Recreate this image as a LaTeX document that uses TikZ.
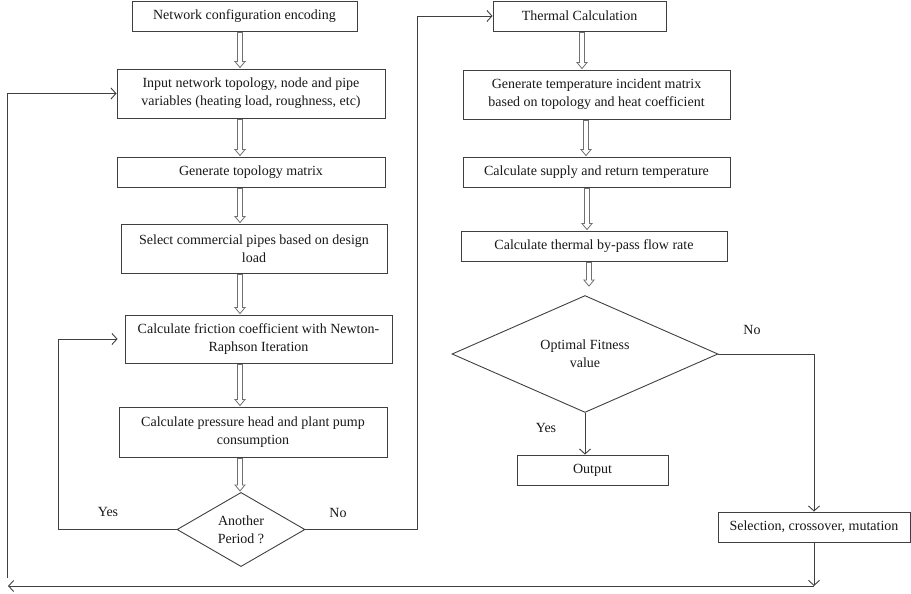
\documentclass[tikz,border=0pt]{standalone}
\usepackage{fontspec}
\setmainfont{Liberation Serif}
\usetikzlibrary{shapes.geometric,arrows.meta,calc}
\definecolor{lc}{HTML}{404040}
\definecolor{bc}{HTML}{707070}
\newcommand\barrow[3]{%
  \draw[blk] let \p1=#1, \p2=#2, \p3=(#3,0) in
    (\x3-2.5pt,\y1-1pt) -- (\x3-2.5pt,\y2+7pt) -- (\x3-5pt,\y2+7pt) --
    (\x3,\y2+1pt) -- (\x3+5pt,\y2+7pt) -- (\x3+2.5pt,\y2+7pt) --
    (\x3+2.5pt,\y1-1pt) -- cycle;}
\begin{document}
\begin{tikzpicture}[x=1pt,y=-1pt,
  txt/.style={font=\fontsize{14}{18}\selectfont, text=black!90},
  box/.style={txt, draw=lc, line width=0.9pt, fill=white, align=center, inner sep=0pt},
  dec/.style={txt, draw=lc, line width=0.9pt, diamond, fill=white, align=center, inner sep=0pt},
  con/.style={draw=lc, line width=0.9pt, -{Straight Barb[length=5pt,width=11pt]}},
  blk/.style={draw=bc, line width=0.8pt, fill=white}]
\useasboundingbox (0,0) rectangle (911,594);

% left column
\node[box, minimum width=225pt, minimum height=30pt] (n1) at (244.5,16) {Network configuration encoding};
\node[box, minimum width=268pt, minimum height=49pt] (n2) at (251,93.5) {Input network topology, node and pipe\\variables (heating load, roughness, etc)};
\node[box, minimum width=268pt, minimum height=30pt] (n3) at (251,172) {Generate topology matrix};
\node[box, minimum width=266pt, minimum height=49pt] (n4) at (254,248.5) {Select commercial pipes based on design\\load};
\node[box, minimum width=267pt, minimum height=48pt] (n5) at (258.5,339) {Calculate friction coefficient with Newton-\\Raphson Iteration};
\node[box, minimum width=268pt, minimum height=50pt] (n6) at (253,432) {Calculate pressure head and plant pump\\consumption};
\node[dec, minimum width=128pt, minimum height=67pt] (d1) at (241,529.5) {Another\\Period ?};

% right column
\node[box, minimum width=173pt, minimum height=30pt] (t1) at (579.5,16) {Thermal Calculation};
\node[box, minimum width=267pt, minimum height=49pt] (t2) at (596.5,94.5) {Generate temperature incident matrix\\based on topology and heat coefficient};
\node[box, minimum width=267pt, minimum height=30pt] (t3) at (596.5,172) {Calculate supply and return temperature};
\node[box, minimum width=266pt, minimum height=30pt] (t4) at (594,246) {Calculate thermal by-pass flow rate};
\node[dec, minimum width=266pt, minimum height=98pt] (d2) at (585,354) {Optimal Fitness\\value};
\node[box, minimum width=151pt, minimum height=30pt] (out) at (592.5,470) {Output};
\node[box, minimum width=192pt, minimum height=30pt] (sel) at (814,527) {Selection, crossover, mutation};

% labels
\node[txt] (ly1) at (108,512) {Yes};
\node[txt] (ln1) at (338,513) {No};
\node[txt] (ly2) at (546,428) {Yes};
\node[txt] (ln2) at (752,330) {No};

% block arrows
\barrow{(n1.south)}{(n2.north)}{240}
\barrow{(n2.south)}{(n3.north)}{240}
\barrow{(n3.south)}{(n4.north)}{240}
\barrow{(n4.south)}{(n5.north)}{240}
\barrow{(n5.south)}{(n6.north)}{240}
\barrow{(n6.south)}{(d1.north)}{240}
\barrow{(t1.south)}{(t2.north)}{582}
\barrow{(t2.south)}{(t3.north)}{586}
\barrow{(t3.south)}{(t4.north)}{587}
\barrow{(t4.south)}{([yshift=8pt]d2.north)}{589}

% connectors
\coordinate (yl) at (58,529.5);
\draw[con, shorten >=7pt] (d1.west) -- (yl) |- (n5.west);
\coordinate (nr) at (417,529.5);
\draw[con] (d1.east) -- (nr) |- (t1.west);
\draw[con] (d2.east) -| (sel.north);
\draw[con] (d2.south) -- (d2.south |- out.north);
\coordinate (bj) at (814,586);
\coordinate (bl) at (8,586);
\coordinate (vl) at (7,578);
\draw[con] (sel.south) -- (bj);
\draw[con] (bj) -- (bl);
\draw[con] (vl) |- (n2.west);
\end{tikzpicture}
\end{document}
